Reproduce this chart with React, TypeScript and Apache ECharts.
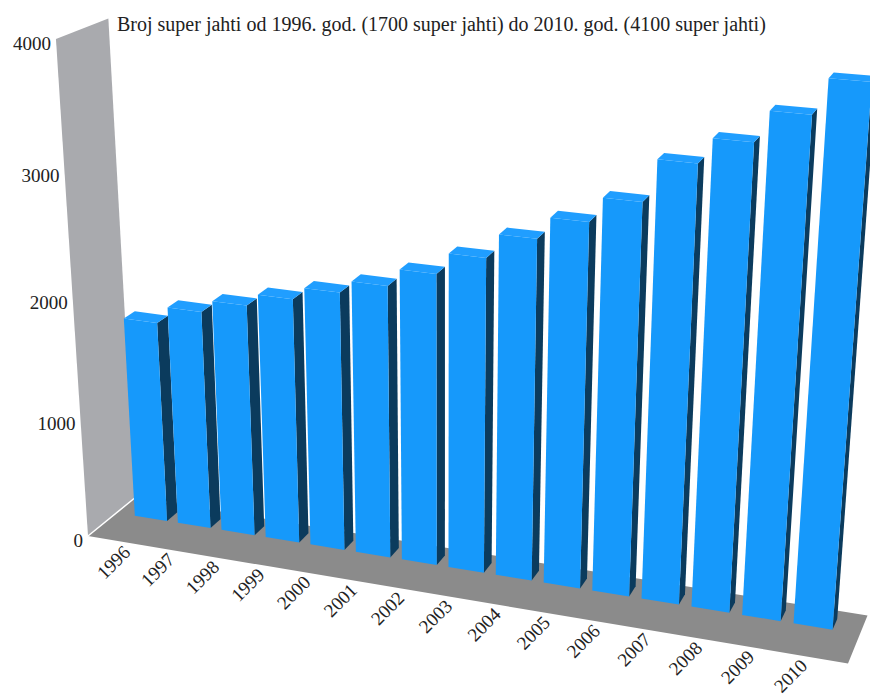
import React, { useEffect, useRef } from 'react';
import * as echarts from 'echarts';

// ---- data ----
const years = ['1996', '1997', '1998', '1999', '2000', '2001', '2002', '2003', '2004', '2005', '2006', '2007', '2008', '2009', '2010'];
const yachts = [1700, 1840, 1940, 2040, 2140, 2240, 2380, 2550, 2740, 2910, 3100, 3420, 3610, 3840, 4100];
const valueTicks = [0, 1000, 2000, 3000, 4000];
const valueMax = 4000;
const titleText = 'Broj super jahti od 1996. god. (1700 super jahti) do 2010. god. (4100 super jahti)';

// ---- perspective camera (vanishing points + origin) ----
const ORIGIN = [88, 536];
const VP_X = [-6450, -560];
const VP_Y = [444, 6058];
const VP_Z = [1300, -450];
const LX = -0.10414;
const LY = -0.08257;
const LZ = 0.04034;

function project(X: number, Y: number, Z: number): number[] {
  const w = 1 + LX * X + LY * Y + LZ * Z;
  const nx = ORIGIN[0] + LX * VP_X[0] * X + LY * VP_Y[0] * Y + LZ * VP_Z[0] * Z;
  const ny = ORIGIN[1] + LX * VP_X[1] * X + LY * VP_Y[1] * Y + LZ * VP_Z[1] * Z;
  return [nx / w, ny / w];
}

// world X range covered by the category bands
const X0 = 0.0192;
const X1 = 0.9748;
const BAR_FRACTION = 0.75;
const Z_FRONT = 0.6;
const Z_BACK = 0.83;

const FONT = '"Liberation Serif", "Times New Roman", serif';

function toWorldX(px: number, cs: any) {
  return X0 + ((px - cs.x) / cs.width) * (X1 - X0);
}
function toWorldY(py: number, cs: any) {
  return (cs.y + cs.height - py) / cs.height;
}

export default function App() {
  const ref = useRef<HTMLDivElement>(null);
  useEffect(() => {
    document.body.style.margin = '0';
    const chart = echarts.init(ref.current!, null, { renderer: 'svg' });

    chart.setOption({
      animation: false,
      title: {
        text: titleText,
        left: 117,
        top: 14,
        padding: 0,
        textStyle: { fontFamily: FONT, fontSize: 20, fontWeight: 'normal', color: '#222' },
      },
      grid: { left: 0, right: 0, top: 0, bottom: 0 },
      xAxis: { type: 'category', data: years, show: false, boundaryGap: true },
      yAxis: { type: 'value', min: 0, max: valueMax, interval: 1000, show: false },
      series: [
        {
          type: 'custom',
          name: 'scene',
          silent: true,
          data: [[0, 0]],
          renderItem: () => {
            const wall = [
              [0, 0, 0], [0, 1, 0], [0, 1, 1], [0, 0, 1],
            ];
            const floor = [
              [0, 0, 0], [1, 0, 0], [1, 0, 1], [0, 0, 1],
            ];
            const a = project(0, 0, 0);
            const b = project(0, 0, 1);
            return {
              type: 'group',
              children: [
                { type: 'polygon', shape: { points: floor.map((p) => project(p[0], p[1], p[2])) }, style: { fill: '#8b8b8b' } },
                { type: 'polygon', shape: { points: wall.map((p) => project(p[0], p[1], p[2])) }, style: { fill: '#a9aaae' } },
                { type: 'line', shape: { x1: a[0], y1: a[1], x2: b[0], y2: b[1] }, style: { stroke: '#ffffff', lineWidth: 1.5 } },
              ],
            };
          },
        },
        {
          type: 'custom',
          name: 'valueLabels',
          silent: true,
          data: valueTicks.map((v) => [0, v]),
          renderItem: (params: any, api: any) => {
            const cs = params.coordSys;
            const c = api.coord([0, api.value(1)]);
            const p = project(0, toWorldY(c[1], cs), 0);
            return {
              type: 'text',
              x: p[0] - 5,
              y: p[1] + 4,
              style: {
                text: String(api.value(1)),
                align: 'right',
                verticalAlign: 'middle',
                font: `19px ${FONT}`,
                fill: '#222',
              },
            };
          },
        },
        {
          type: 'custom',
          name: 'Super jahte',
          data: yachts.map((v, i) => [i, v]),
          renderItem: (params: any, api: any) => {
            const cs = params.coordSys;
            const i = api.value(0);
            const top = api.coord([i, api.value(1)]);
            const band = api.size([1, 0])[0];
            const xc = toWorldX(top[0], cs);
            const half = ((band / cs.width) * (X1 - X0) * BAR_FRACTION) / 2;
            const xl = xc - half;
            const xr = xc + half;
            const Y = toWorldY(top[1], cs);
            const zf = Z_FRONT;
            const zb = Z_BACK;
            const P = (pts: number[][]) => pts.map((q) => project(q[0], q[1], q[2]));
            return {
              type: 'group',
              children: [
                { type: 'polygon', shape: { points: P([[xr, 0, zf], [xr, 0, zb], [xr, Y, zb], [xr, Y, zf]]) }, style: { fill: '#0b3b5d' } },
                { type: 'polygon', shape: { points: P([[xl, Y, zf], [xr, Y, zf], [xr, Y, zb], [xl, Y, zb]]) }, style: { fill: '#209eff' } },
                { type: 'polygon', shape: { points: P([[xl, 0, zf], [xr, 0, zf], [xr, Y, zf], [xl, Y, zf]]) }, style: { fill: '#1699fb' } },
              ],
            };
          },
        },
        {
          type: 'custom',
          name: 'yearLabels',
          silent: true,
          data: years.map((y, i) => [i, 0]),
          renderItem: (params: any, api: any) => {
            const cs = params.coordSys;
            const i = api.value(0);
            const c = api.coord([i, 0]);
            const p = project(toWorldX(c[0], cs), 0, 0);
            return {
              type: 'text',
              x: p[0] + 4,
              y: p[1] + 7,
              rotation: Math.PI / 4,
              style: {
                text: years[i],
                align: 'right',
                verticalAlign: 'middle',
                font: `19px ${FONT}`,
                fill: '#222',
              },
            };
          },
        },
      ],
    });
    return () => chart.dispose();
  }, []);
  return <div ref={ref} style={{ width: 870, height: 698 }} />;
}
